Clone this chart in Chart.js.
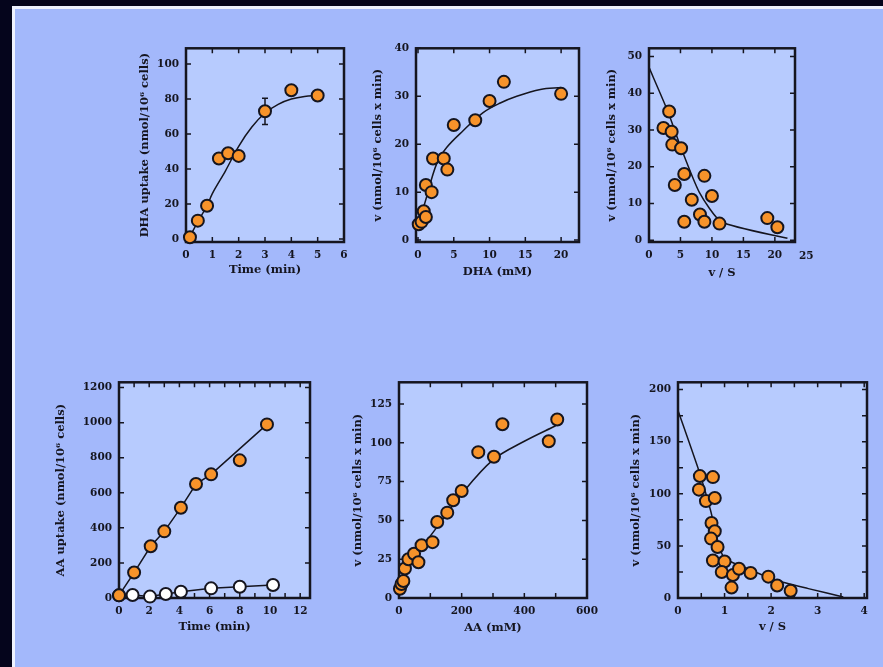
<!DOCTYPE html>
<html>
<head>
<meta charset="utf-8">
<script src="https://cdn.jsdelivr.net/npm/chart.js@4.4.1/dist/chart.umd.min.js"></script>
<style>
html, body { margin: 0; padding: 0; }
body { width: 883px; height: 667px; background: #05051c; position: relative; overflow: hidden; }
#slide { position: absolute; left: 12px; top: 6px; right: 0; bottom: 0; background: #a3b8fb;
         border-left: 3px solid #eef2ff; border-top: 3px solid #eef2ff; }
canvas { position: absolute; }
</style>
</head>
<body>
<div id="slide"></div>
<canvas id="c1"></canvas>
<canvas id="c2"></canvas>
<canvas id="c3"></canvas>
<canvas id="c4"></canvas>
<canvas id="c5"></canvas>
<canvas id="c6"></canvas>
<script>
// --- DHA uptake time course
const dhaTime = [0.15, 0.45, 0.8, 1.25, 1.6, 2, 3, 4, 5];
const dhaUptake = [1, 10.5, 19, 46, 49, 47.5, 73, 85, 82];
const dhaUptakeErr = [0, 0, 0, 0, 0, 0, 7.5, 0, 0];
const dhaFitTime = [0.1, 0.45, 0.8, 1, 1.5, 2, 2.5, 3, 3.5, 4, 4.5, 5];
const dhaFitUptake = [0, 10, 19, 26, 39, 53, 64, 72, 77, 80, 81.5, 82];

// --- DHA kinetics
const dhaConc = [0.1, 0.5, 0.8, 1.1, 1.1, 1.9, 2.1, 3.6, 4.1, 5, 8, 10, 12, 20];
const dhaRate = [3.3, 3.8, 6, 4.8, 11.5, 10, 17, 17, 14.7, 24, 25, 29, 33, 30.5];
const dhaFitConc = [0, 1.2, 2.6, 4, 6.3, 9.1, 11.5, 13.8, 17.1, 20];
const dhaFitRate = [2.8, 9, 15.9, 19.3, 22.8, 26.6, 28.6, 30, 31.4, 31.8];

// --- DHA Scatchard (v vs v/S)
const dhaVS = [2.3, 3.2, 3.6, 3.7, 5.1, 5.6, 4.1, 8.8, 6.8, 10, 8.1, 8.8, 5.6, 11.2, 18.8, 20.4];
const dhaV = [30.5, 35, 29.5, 26, 25, 18, 15, 17.5, 11, 12, 7, 5, 5, 4.5, 6, 3.5];
const dhaLineVS = [0, 3, 5, 8, 11.5, 22];
const dhaLineV = [47, 35, 25.5, 13, 5, 0.5];

// --- AA uptake time course
const aaTime = [0, 1, 2.1, 3, 4.1, 5.1, 6.1, 8, 9.8];
const aaUptake = [15, 145, 295, 380, 515, 650, 705, 785, 990];
const aaLineTime = [0, 1, 2.1, 3, 4.1, 5.1, 6.1, 9.8];
const aaLineUptake = [15, 145, 295, 380, 515, 650, 705, 990];
const ctlTime = [0, 0.9, 2.05, 3.1, 4.1, 6.1, 8, 10.2];
const ctlUptake = [15, 17, 8, 23, 36, 55, 64, 74];

// --- AA kinetics
const aaConc = [3, 8, 14, 19, 30, 48, 62, 72, 107, 122, 154, 173, 200, 253, 303, 330, 478, 505];
const aaRate = [6, 9, 11, 19, 25, 28.5, 23, 34, 36, 49, 55, 63, 69, 94, 91, 112, 101, 115];
const aaFitConc = [0, 20, 50, 100, 200, 300, 400, 500];
const aaFitRate = [5, 18, 28, 40, 67, 89, 101, 111];

// --- AA Scatchard
const aaVS = [0.47, 0.75, 0.45, 0.6, 0.79, 0.72, 0.79, 0.71, 0.85, 0.75, 1.0, 0.94, 1.18, 1.31, 1.56, 1.15, 1.94, 2.13, 2.42];
const aaV = [117, 116, 104, 93, 96, 72, 64, 57, 49, 36, 35, 25, 22, 28, 24, 10, 20.5, 12, 7];
const aaLineVS = [0, 0.45, 0.7, 0.87, 1.0, 1.4, 2.1, 2.8, 3.55];
const aaLineV = [180, 122, 84, 52, 38, 30, 17, 9, 1];

// tick labels
const ticksTime1 = [0, 1, 2, 3, 4, 5, 6];
const ticksUptake1 = [0, 20, 40, 60, 80, 100];
const ticksDha = [0, 5, 10, 15, 20];
const ticksRate1 = [0, 10, 20, 30, 40];
const ticksVS1 = [0, 5, 10, 15, 20, 25];
const ticksRate2 = [0, 10, 20, 30, 40, 50];
const ticksTime2 = [0, 2, 4, 6, 8, 10, 12];
const ticksUptake2 = [0, 200, 400, 600, 800, 1000, 1200];
const ticksAa = [0, 200, 400, 600];
const ticksRate3 = [0, 25, 50, 75, 100, 125];
const ticksVS2 = [0, 1, 2, 3, 4];
const ticksRate4 = [0, 50, 100, 150, 200];

const ORANGE = '#f7932a';
const INK = '#15151f';
const FAMILY = '"DejaVu Serif", "Liberation Serif", serif';
const tickFont = { family: FAMILY, size: 10.5, weight: 'bold' };
const titleFont = { family: FAMILY, size: 11.5, weight: 'bold', lineHeight: 1.2 };
const TITLE_OFF = 4 + 11.5 * 1.2 / 2;
const vTitle = 'v (nmol/10\u2076 cells x min)';

function pts(xs, ys) { return xs.map((x, i) => ({ x: x, y: ys[i] })); }

function dots(xs, ys, fill, line) {
    return {
        data: pts(xs, ys), showLine: !!line, borderColor: INK, borderWidth: 1.5,
        pointRadius: 6, pointBackgroundColor: fill, pointBorderColor: INK, pointBorderWidth: 2,
        clip: false
    };
}
function curve(xs, ys, tension) {
    return { data: pts(xs, ys), showLine: true, borderColor: INK, borderWidth: 1.5, pointRadius: 0, tension: tension || 0 };
}

const framePlugin = {
    id: 'frame',
    beforeDraw(chart) {
        const { ctx, chartArea: a } = chart;
        ctx.save();
        ctx.fillStyle = '#b7cbfe';
        ctx.fillRect(a.left, a.top, a.width, a.height);
        ctx.restore();
    },
    beforeDatasetsDraw(chart, args, opts) {
        const { ctx, chartArea: a, scales: { x, y } } = chart;
        ctx.save();
        ctx.strokeStyle = INK;
        ctx.lineWidth = 1.5;
        ctx.beginPath();
        for (let v = Math.ceil(x.min / opts.xStep) * opts.xStep; v <= x.max; v += opts.xStep) {
            const px = x.getPixelForValue(v);
            ctx.moveTo(px, a.bottom); ctx.lineTo(px, a.bottom - 5);
            ctx.moveTo(px, a.top); ctx.lineTo(px, a.top + 5);
        }
        for (let v = Math.ceil(y.min / opts.yStep) * opts.yStep; v <= y.max; v += opts.yStep) {
            const py = y.getPixelForValue(v);
            ctx.moveTo(a.left, py); ctx.lineTo(a.left + 5, py);
            ctx.moveTo(a.right, py); ctx.lineTo(a.right - 5, py);
        }
        ctx.stroke();
        // error bars
        chart.data.datasets.forEach(ds => {
            if (!ds.errors) return;
            ds.data.forEach((p, i) => {
                const e = ds.errors[i];
                if (!e) return;
                const px = x.getPixelForValue(p.x);
                const y0 = y.getPixelForValue(p.y - e), y1 = y.getPixelForValue(p.y + e);
                ctx.beginPath();
                ctx.moveTo(px, y0); ctx.lineTo(px, y1);
                ctx.moveTo(px - 3, y0); ctx.lineTo(px + 3, y0);
                ctx.moveTo(px - 3, y1); ctx.lineTo(px + 3, y1);
                ctx.stroke();
            });
        });
        ctx.lineWidth = 2.5;
        ctx.strokeRect(a.left, a.top, a.width, a.height);
        ctx.restore();
    },
    afterDraw(chart, args, opts) {
        // tick labels that sit past the end of the axis (e.g. "25" on the DHA Scatchard plot)
        if (!opts.outside || !opts.outside.length) return;
        const { ctx, chartArea: a, scales: { x } } = chart;
        ctx.save();
        ctx.font = `bold ${tickFont.size}px ${FAMILY}`;
        ctx.fillStyle = INK;
        ctx.textAlign = 'center';
        ctx.textBaseline = 'top';
        opts.outside.forEach(v => ctx.fillText(String(v), x.getPixelForValue(v), a.bottom + 9));
        ctx.restore();
    }
};

function makePanel(id, p) {
    const cv = document.getElementById(id);
    const left = Math.round(p.yTitle - TITLE_OFF), top = p.box[1] - 12;
    const right = p.box[2] + 24, bottom = Math.round(p.xTitle + TITLE_OFF);
    cv.style.left = left + 'px';
    cv.style.top = top + 'px';
    cv.width = right - left;
    cv.height = bottom - top;
    const yW = p.box[0] - left, xH = bottom - p.box[3];
    const inX = p.xt.filter(v => v <= p.xr[1]);
    const outX = p.xt.filter(v => v > p.xr[1]);
    new Chart(cv, {
        type: 'scatter',
        data: { datasets: p.datasets },
        options: {
            responsive: false,
            animation: false,
            layout: { padding: { left: 0, top: 12, right: 24, bottom: 0 } },
            plugins: {
                legend: { display: false }, tooltip: { enabled: false },
                frame: { xStep: p.xStep, yStep: p.yStep, outside: outX }
            },
            scales: {
                x: {
                    type: 'linear', min: p.xr[0], max: p.xr[1],
                    grid: { display: false, drawTicks: false }, border: { display: false },
                    afterBuildTicks: s => { s.ticks = inX.map(v => ({ value: v })); },
                    afterFit: s => { s.height = xH; },
                    ticks: { padding: 7, color: INK, font: tickFont, maxRotation: 0, autoSkip: false, callback: v => String(v) },
                    title: { display: true, text: p.xLabel, color: INK, font: titleFont }
                },
                y: {
                    type: 'linear', min: p.yr[0], max: p.yr[1],
                    grid: { display: false, drawTicks: false }, border: { display: false },
                    afterBuildTicks: s => { s.ticks = p.yt.map(v => ({ value: v })); },
                    afterFit: s => { s.width = yW; },
                    ticks: { padding: 7, color: INK, font: tickFont, autoSkip: false, callback: v => String(v) },
                    title: { display: true, text: p.yLabel, color: INK, font: titleFont }
                }
            }
        },
        plugins: [framePlugin]
    });
}

const dhaPts = dots(dhaTime, dhaUptake, ORANGE);
dhaPts.errors = dhaUptakeErr;

makePanel('c1', {
    box: [186, 47, 344, 242], xr: [0, 6], yr: [-1.7, 109], xt: ticksTime1, yt: ticksUptake1,
    yTitle: 145, xTitle: 270, xStep: 1, yStep: 20,
    xLabel: 'Time (min)', yLabel: 'DHA uptake (nmol/10\u2076 cells)',
    datasets: [dhaPts, curve(dhaFitTime, dhaFitUptake, 0.35)]
});
makePanel('c2', {
    box: [416, 47, 579, 242], xr: [-0.28, 22.5], yr: [-0.4, 40], xt: ticksDha, yt: ticksRate1,
    yTitle: 378, xTitle: 272, xStep: 5, yStep: 10,
    xLabel: 'DHA (mM)', yLabel: vTitle,
    datasets: [dots(dhaConc, dhaRate, ORANGE), curve(dhaFitConc, dhaFitRate, 0.35)]
});
makePanel('c3', {
    box: [649, 47, 795, 242], xr: [0, 23.2], yr: [-0.5, 52.2], xt: ticksVS1, yt: ticksRate2,
    yTitle: 612, xTitle: 273, xStep: 5, yStep: 10,
    xLabel: 'v / S', yLabel: vTitle,
    datasets: [dots(dhaVS, dhaV, ORANGE), curve(dhaLineVS, dhaLineV, 0.2)]
});
makePanel('c4', {
    box: [119, 381, 310, 598], xr: [0, 12.65], yr: [0, 1230], xt: ticksTime2, yt: ticksUptake2,
    yTitle: 61, xTitle: 627, xStep: 1, yStep: 200,
    xLabel: 'Time (min)', yLabel: 'AA uptake (nmol/10\u2076 cells)',
    datasets: [dots(aaTime, aaUptake, ORANGE), dots(ctlTime, ctlUptake, '#ffffff', true), curve(aaLineTime, aaLineUptake)]
});
makePanel('c5', {
    box: [399, 381, 587, 598], xr: [0, 600], yr: [0, 139], xt: ticksAa, yt: ticksRate3,
    yTitle: 358, xTitle: 628, xStep: 100, yStep: 25,
    xLabel: 'AA (mM)', yLabel: vTitle,
    datasets: [dots(aaConc, aaRate, ORANGE), curve(aaFitConc, aaFitRate, 0.35)]
});
makePanel('c6', {
    box: [678, 381, 867, 598], xr: [0, 4.06], yr: [0, 207], xt: ticksVS2, yt: ticksRate4,
    yTitle: 636, xTitle: 627, xStep: 0.5, yStep: 25,
    xLabel: 'v / S', yLabel: vTitle,
    datasets: [dots(aaVS, aaV, ORANGE), curve(aaLineVS, aaLineV, 0.2)]
});
</script>
</body>
</html>
